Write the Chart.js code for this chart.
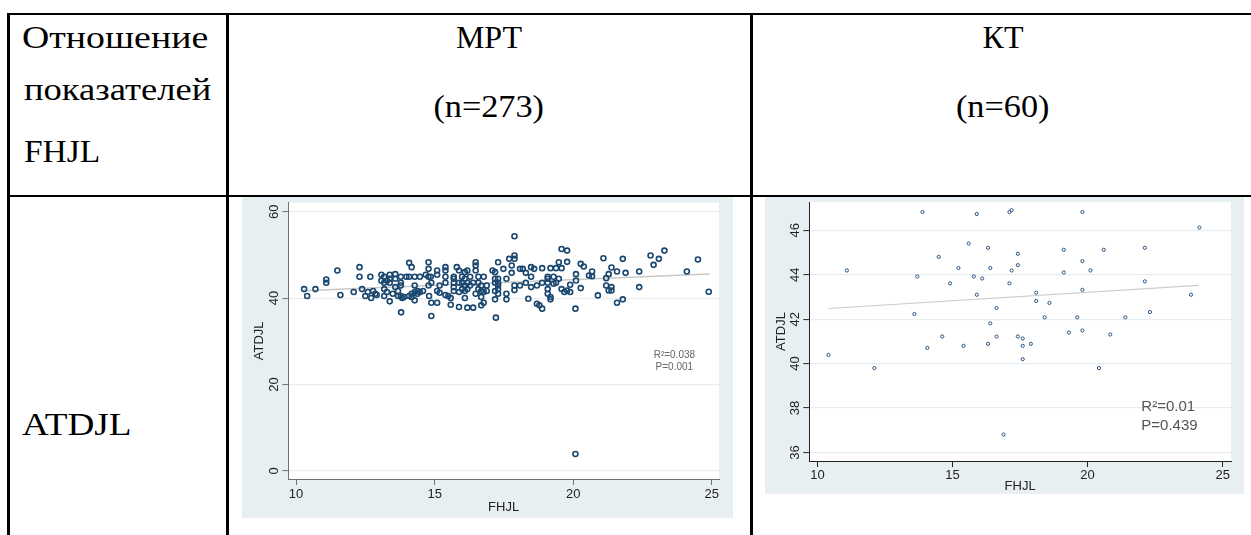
<!DOCTYPE html>
<html>
<head>
<meta charset="utf-8">
<script src="https://cdn.jsdelivr.net/npm/chart.js@4.4.1/dist/chart.umd.min.js"></script>
<style>
  html, body { margin:0; padding:0; background:#fff; width:1251px; height:535px; overflow:hidden; }
  .ln { position:absolute; background:#000; }
  .tx { position:absolute; font-family:"Liberation Serif","Times New Roman",serif; font-size:31px; line-height:31px; color:#000; white-space:nowrap; transform-origin:0 50%; }
  .hd { position:absolute; font-family:"Liberation Serif","Times New Roman",serif; font-size:32px; line-height:32px; color:#000; white-space:nowrap; text-align:center; }
  .hd span { display:inline-block; transform-origin:50% 50%; }
  canvas { position:absolute; }
</style>
</head>
<body>
<div class="tx" style="left:22px;top:22px;transform:scaleX(1.22);">Отношение</div>
<div class="tx" style="left:24px;top:74px;transform:scaleX(1.18);">показателей</div>
<div class="tx" style="left:24px;top:136px;transform:scaleX(1.08);">FHJL</div>
<div class="hd" style="left:228px;width:522px;top:21px;"><span>МРТ</span></div>
<div class="hd" style="left:228px;width:522px;top:90px;"><span style="transform:scaleX(1.07);">(n=273)</span></div>
<div class="hd" style="left:752px;width:502px;top:21px;"><span>КТ</span></div>
<div class="hd" style="left:752px;width:502px;top:90px;"><span style="transform:scaleX(1.07);">(n=60)</span></div>
<div class="tx" style="left:22px;top:409px;transform:scaleX(1.2);">ATDJL</div>

<canvas id="c1" width="491" height="321" style="left:242px;top:197px;width:491px;height:321px;"></canvas>
<canvas id="c2" width="479" height="297" style="left:765px;top:197px;width:479px;height:297px;"></canvas>

<div class="ln" style="left:7px;top:13px;width:1244px;height:2px;"></div>
<div class="ln" style="left:7px;top:195px;width:1244px;height:2px;"></div>
<div class="ln" style="left:7px;top:13px;width:3px;height:522px;"></div>
<div class="ln" style="left:226px;top:13px;width:3px;height:522px;"></div>
<div class="ln" style="left:750px;top:13px;width:3px;height:522px;"></div>

<script>
// ---- MRI (n=273): FHJL vs ATDJL ----
const mriX = [
 10.29,10.40,10.70,11.09,11.09,11.49,11.60,12.08,12.29,12.29,
 12.38,12.50,12.59,12.68,12.71,12.78,12.86,12.91,13.08,13.08,
 13.18,13.18,13.18,13.18,13.28,13.38,13.38,13.38,13.38,13.49,
 13.58,13.58,13.58,13.68,13.68,13.78,13.78,13.78,13.78,13.79,
 13.83,13.89,14.08,14.08,14.08,14.17,14.17,14.17,14.28,14.28,
 14.28,14.28,14.38,14.47,14.47,14.58,14.68,14.78,14.78,14.78,
 14.78,14.80,14.86,14.88,14.88,14.88,15.09,15.09,15.09,15.09,
 15.18,15.18,15.39,15.39,15.39,15.39,15.49,15.58,15.58,15.69,
 15.69,15.69,15.69,15.80,15.88,15.88,15.88,15.99,15.99,16.09,
 16.09,16.09,16.09,16.09,16.18,16.18,16.18,16.18,16.28,16.28,
 16.39,16.48,16.48,16.48,16.48,16.58,16.58,16.68,16.68,16.68,
 16.68,16.77,16.77,16.77,16.88,17.09,17.18,17.18,17.18,17.18,
 17.18,17.21,17.29,17.29,17.29,17.29,17.48,17.59,17.59,17.59,
 17.69,17.78,17.78,17.88,17.88,17.88,17.88,17.88,18.08,18.08,
 18.18,18.29,18.29,18.38,18.48,18.48,18.48,18.59,18.69,18.69,
 18.78,18.88,18.88,18.88,19.08,19.08,19.08,19.08,19.18,19.18,
 19.18,19.29,19.29,19.38,19.38,19.48,19.48,19.58,19.58,19.58,
 19.68,19.78,19.78,19.78,19.89,19.89,20.08,20.08,20.10,20.10,
 20.27,20.27,20.38,20.57,20.68,20.68,20.89,21.09,21.19,21.19,
 21.28,21.28,21.38,21.38,21.58,21.58,21.79,21.79,21.89,22.38,
 22.38,22.79,22.90,23.09,23.29,24.10,24.50,24.89,
 13.28,13.98,14.38,15.39,15.69,15.88,15.99,16.39,16.58,16.88,17.29,17.29,19.08,21.38
];
const mriY = [
 42.09,40.48,42.09,44.32,43.55,46.39,40.71,41.40,47.16,44.93,
 42.09,40.48,41.40,44.93,40.02,41.63,41.01,40.71,45.39,44.01,
 44.93,43.55,42.09,40.48,41.40,45.39,44.47,43.55,39.25,41.01,
 45.55,44.47,42.55,41.63,40.48,44.93,43.55,42.93,40.48,36.71,
 40.02,40.25,48.16,44.93,40.48,47.16,41.01,40.25,44.93,42.93,
 41.40,39.48,41.01,41.40,44.93,41.63,45.39,48.31,46.77,44.93,
 42.93,40.48,44.93,43.55,38.94,35.87,46.39,45.39,41.63,38.94,
 42.93,41.24,47.16,46.39,43.55,40.71,40.48,40.02,38.48,44.47,
 43.55,42.55,41.63,47.16,46.39,41.40,37.94,44.93,43.55,46.01,
 44.47,42.93,41.63,40.02,46.39,43.55,42.09,37.79,44.93,42.93,
 37.79,48.31,47.54,46.39,41.01,44.93,43.55,42.93,41.63,40.25,
 38.33,44.93,41.40,38.94,42.93,46.39,46.01,44.47,43.55,41.63,
 39.71,35.48,48.31,44.47,42.93,41.01,46.77,44.47,41.01,39.71,
 49.08,47.54,45.85,54.30,49.85,49.08,42.93,41.86,46.77,42.93,
 46.77,45.85,43.55,39.86,47.16,44.93,42.55,46.77,42.93,38.71,
 38.33,37.56,43.55,46.93,44.93,43.55,42.09,41.01,46.93,40.25,
 39.71,44.93,43.32,46.93,43.55,48.31,44.47,51.38,46.93,42.09,
 41.40,51.00,48.39,41.78,43.09,41.40,37.56,3.92,45.55,44.09,
 47.93,42.32,47.31,45.24,46.16,45.08,40.63,49.23,44.62,42.93,
 45.55,41.78,47.08,42.55,38.94,46.16,49.08,39.71,45.85,46.16,
 42.55,49.85,47.70,49.08,51.00,46.16,48.92,41.47,
 44.01,44.93,41.63,44.93,44.93,43.55,42.09,43.55,42.09,41.63,43.55,42.09,44.47,41.78
];
const mriFitX = [10.26, 24.92];
const mriFitY = [41.7, 45.6];
const mriXTicks = [10, 15, 20, 25];
const mriYTicks = [0, 20, 40, 60];
const mriStats = ['R²=0.038', 'P=0.001'];

// ---- KT (n=60): FHJL vs ATDJL ----
const ktX = [
 10.41,11.09,12.11,13.59,13.70,13.89,14.07,14.49,14.62,14.91,
 15.22,15.41,15.60,15.79,15.90,15.90,16.10,16.32,16.32,16.40,
 16.40,16.63,16.63,16.89,17.11,17.19,17.11,17.19,17.42,17.42,
 17.42,17.60,17.60,17.60,17.90,18.10,18.10,18.41,18.59,19.12,
 19.12,19.31,19.62,19.81,19.81,19.81,19.81,20.11,20.42,20.60,
 20.84,21.40,22.12,22.12,22.31,23.83,24.14
];
const ktY = [
 40.39,44.19,39.80,42.23,43.92,46.82,40.71,44.80,41.22,43.61,
 44.30,40.80,45.40,43.92,46.73,43.10,43.83,45.21,40.89,44.30,
 41.81,42.50,41.22,36.81,46.82,46.90,43.61,44.19,44.94,44.43,
 41.22,41.13,40.80,40.20,40.89,43.19,42.82,42.08,42.73,45.12,
 44.10,41.40,42.08,46.82,44.61,43.32,41.49,44.19,39.80,45.12,
 41.31,42.08,45.21,43.70,42.32,43.10,46.12
];
const ktFitX = [10.41, 24.11];
const ktFitY = [42.48, 43.52];
const ktXTicks = [10, 15, 20, 25];
const ktYTicks = [36, 38, 40, 42, 44, 46];
const ktStats = ['R²=0.01', 'P=0.439'];

const GRAPH_BG = '#e8eff2';
const bgPlugin = {
  id: 'bg',
  beforeDraw(chart) {
    const {ctx, chartArea: a, width, height} = chart;
    ctx.save();
    ctx.fillStyle = GRAPH_BG;
    ctx.fillRect(0, 0, width, height);
    ctx.fillStyle = '#ffffff';
    ctx.fillRect(a.left, a.top, a.right - a.left, a.bottom - a.top);
    ctx.restore();
  }
};
const statsPlugin = {
  id: 'stats',
  afterDatasetsDraw(chart, args, o) {
    const {ctx, scales: {x, y}} = chart;
    ctx.save();
    ctx.font = o.font;
    ctx.fillStyle = o.color;
    ctx.textAlign = o.align;
    ctx.textBaseline = 'middle';
    o.lines.forEach((t, i) => ctx.fillText(t, x.getPixelForValue(o.x), y.getPixelForValue(o.y[i])));
    ctx.restore();
  }
};

function makeChart(id, cfg) {
  const pts = cfg.xs.map((v, i) => ({x: v, y: cfg.ys[i]}));
  const fit = cfg.fitX.map((v, i) => ({x: v, y: cfg.fitY[i]}));
  const tickFont = {family: 'Liberation Sans', size: 13};
  return new Chart(document.getElementById(id), {
    type: 'scatter',
    data: {
      datasets: [
        { data: pts, pointStyle: 'circle', pointRadius: cfg.r, pointBorderWidth: cfg.bw,
          pointBorderColor: cfg.mc, pointBackgroundColor: 'rgba(0,0,0,0)', order: 1 },
        { type: 'line', data: fit, borderColor: cfg.fitColor, borderWidth: cfg.fitW,
          pointRadius: 0, fill: false, order: 2 }
      ]
    },
    options: {
      animation: false, responsive: false, events: [],
      layout: { padding: { top: cfg.padT, right: cfg.padR, left: 0, bottom: 0 } },
      plugins: { legend: { display: false }, tooltip: { enabled: false }, stats: cfg.stats },
      scales: {
        x: {
          type: 'linear', min: cfg.xMin, max: cfg.xMax,
          afterBuildTicks: s => { s.ticks = cfg.xTicks.map(v => ({value: v})); },
          afterFit: s => { s.height = cfg.xH; s.paddingLeft = 0; s.paddingRight = 0; },
          grid: { drawOnChartArea: false, drawTicks: true, tickLength: 6, tickColor: cfg.axisColor, tickWidth: 1 },
          border: { display: true, color: cfg.axisColor, width: 1 },
          ticks: { font: tickFont, color: '#222', padding: cfg.xTickPad, maxRotation: 0, minRotation: 0 },
          title: { display: true, text: 'FHJL', color: '#222', font: {family: 'Liberation Sans', size: 13},
                   padding: { top: 0, bottom: cfg.xTitlePad } }
        },
        y: {
          type: 'linear', min: cfg.yMin, max: cfg.yMax,
          afterBuildTicks: s => { s.ticks = cfg.yTicks.map(v => ({value: v})); },
          afterFit: s => { s.width = cfg.yW; s.paddingTop = 0; s.paddingBottom = 0; },
          grid: { drawOnChartArea: true, color: cfg.gridColor, lineWidth: 1.2, drawTicks: true,
                  tickLength: 6, tickColor: cfg.axisColor, tickWidth: 1 },
          border: { display: true, color: cfg.axisColor, width: 1 },
          ticks: { font: tickFont, color: '#222', padding: cfg.yTickPad, minRotation: 90, maxRotation: 90,
                   crossAlign: 'center' },
          title: { display: true, text: 'ATDJL', color: '#222', font: {family: 'Liberation Sans', size: 13},
                   padding: { top: cfg.yTitlePad, bottom: 0 } }
        }
      }
    },
    plugins: [bgPlugin, statsPlugin]
  });
}

makeChart('c1', {
  xs: mriX, ys: mriY, fitX: mriFitX, fitY: mriFitY, xTicks: mriXTicks, yTicks: mriYTicks,
  xMin: 9.72, xMax: 25.26, yMin: -1.85, yMax: 62.1,
  r: 2.5, bw: 1.6, mc: '#1a476f', fitColor: '#c9c9c9', fitW: 1.5,
  axisColor: '#707070', gridColor: '#e6edf1',
  padT: 5, padR: 14, xH: 39, yW: 46.3, xTickPad: 2, yTickPad: 1, xTitlePad: 2.3, yTitlePad: 9.6,
  stats: { lines: mriStats, x: 23.65, y: [26.8, 24.0], font: '10px "Liberation Sans"', color: '#666', align: 'center' }
});

makeChart('c2', {
  xs: ktX, ys: ktY, fitX: ktFitX, fitY: ktFitY, xTicks: ktXTicks, yTicks: ktYTicks,
  xMin: 9.70, xMax: 25.31, yMin: 35.62, yMax: 47.27,
  r: 1.6, bw: 1, mc: '#2a5580', fitColor: '#cccccc', fitW: 1.2,
  axisColor: '#222222', gridColor: '#e6edf1',
  padT: 4, padR: 13, xH: 33, yW: 44.3, xTickPad: 0.5, yTickPad: 0.5, xTitlePad: 0, yTitlePad: 8.3,
  stats: { lines: ktStats, x: 21.99, y: [38.07, 37.22], font: '15px "Liberation Sans"', color: '#555', align: 'left' }
});
</script>
</body>
</html>
